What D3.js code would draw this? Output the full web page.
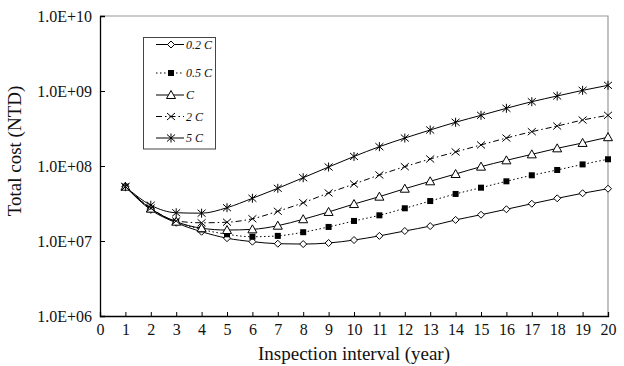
<!DOCTYPE html>
<html>
<head>
<meta charset="utf-8">
<script src="https://cdn.jsdelivr.net/npm/d3@7"></script>
<style>
  body { margin: 0; background: #fff; }
  svg { display: block; font-family: "Liberation Serif", "DejaVu Serif", serif; }
</style>
</head>
<body>
<div id="chart"></div>
<script>
// inspection interval, years
const years = [1, 2, 3, 4, 5, 6, 7, 8, 9, 10, 11, 12, 13, 14, 15, 16, 17, 18, 19, 20];

// total cost (NTD) for each cost multiplier
const cost02C = [5.3e7, 2.6e7, 1.75e7, 1.33e7, 1.09e7, 9.8e6, 9.2e6, 9.1e6, 9.4e6, 1.03e7,
  1.17e7, 1.36e7, 1.58e7, 1.91e7, 2.24e7, 2.65e7, 3.14e7, 3.71e7, 4.33e7, 4.98e7];
const cost05C = [5.3e7, 2.65e7, 1.8e7, 1.43e7, 1.23e7, 1.14e7, 1.17e7, 1.31e7, 1.54e7, 1.85e7,
  2.2e7, 2.73e7, 3.41e7, 4.24e7, 5.14e7, 6.25e7, 7.52e7, 8.85e7, 1.05e8, 1.23e8];
const cost1C = [5.3e7, 2.7e7, 1.81e7, 1.48e7, 1.4e7, 1.43e7, 1.6e7, 1.95e7, 2.44e7, 3.11e7,
  3.9e7, 4.98e7, 6.25e7, 7.82e7, 9.8e7, 1.19e8, 1.43e8, 1.72e8, 2.03e8, 2.42e8];
const cost2C = [5.3e7, 2.75e7, 1.85e7, 1.75e7, 1.78e7, 1.98e7, 2.49e7, 3.24e7, 4.37e7, 5.75e7,
  7.59e7, 9.8e7, 1.24e8, 1.54e8, 1.91e8, 2.36e8, 2.87e8, 3.41e8, 4.1e8, 4.74e8];
const cost5C = [5.3e7, 3.0e7, 2.38e7, 2.35e7, 2.78e7, 3.71e7, 5.04e7, 6.98e7, 9.7e7, 1.34e8,
  1.81e8, 2.36e8, 3.02e8, 3.83e8, 4.74e8, 5.88e8, 7.2e8, 8.58e8, 1.02e9, 1.19e9];

const seriesLabels = ['0.2 C', '0.5 C', 'C', '2 C', '5 C'];
const xTicks = d3.range(0, 21);
const yTicks = [1e6, 1e7, 1e8, 1e9, 1e10];

const series = [
  { label: seriesLabels[0], values: cost02C, dash: null, marker: 'diamond' },
  { label: seriesLabels[1], values: cost05C, dash: '1.5,2.5', marker: 'square' },
  { label: seriesLabels[2], values: cost1C, dash: null, marker: 'triangle' },
  { label: seriesLabels[3], values: cost2C, dash: '6,3,1.5,3', marker: 'cross' },
  { label: seriesLabels[4], values: cost5C, dash: null, marker: 'star' }
];

const width = 624, height = 366;
const margin = { top: 16, right: 16, bottom: 50, left: 100 };

const svg = d3.select('#chart').append('svg')
  .attr('width', width)
  .attr('height', height);

const x = d3.scaleLinear().domain([0, 20]).range([margin.left, width - margin.right]);
const y = d3.scaleLog().domain([1e6, 1e10]).range([height - margin.bottom, margin.top]);

// gray frame on top and right
svg.append('path')
  .attr('d', `M${x(0)},${y(1e10)}H${x(20)}V${y(1e6)}`)
  .attr('fill', 'none')
  .attr('stroke', '#999')
  .attr('stroke-width', 1.2);

const fmt = v => '1.0E+' + String(Math.round(Math.log10(v))).padStart(2, '0');

const xAxis = svg.append('g')
  .attr('transform', `translate(0,${y(1e6)})`)
  .call(d3.axisBottom(x).tickValues(xTicks).tickSize(-4).tickPadding(8).tickFormat(d3.format('d')));
xAxis.selectAll('text').attr('font-size', 16).attr('font-family', 'Liberation Serif').attr('fill', '#111');

const yAxis = svg.append('g')
  .attr('transform', `translate(${x(0)},0)`)
  .call(d3.axisLeft(y).tickValues(yTicks).tickSize(-5).tickPadding(8).tickFormat(fmt));
yAxis.selectAll('text').attr('font-size', 16).attr('font-family', 'Liberation Serif').attr('fill', '#111');

[xAxis, yAxis].forEach(a => {
  a.select('.domain').attr('stroke', '#000').attr('stroke-width', 1.3);
  a.selectAll('.tick line').attr('stroke', '#000');
});

// axis titles
svg.append('text')
  .attr('x', (x(0) + x(20)) / 2)
  .attr('y', 360)
  .attr('text-anchor', 'middle')
  .attr('font-size', 19)
  .attr('fill', '#111')
  .text('Inspection interval (year)');

svg.append('text')
  .attr('transform', `translate(21,${151}) rotate(-90)`)
  .attr('text-anchor', 'middle')
  .attr('font-size', 19)
  .attr('fill', '#111')
  .text('Total cost (NTD)');

// marker shapes
function drawMarker(g, type) {
  if (type === 'diamond') {
    g.append('path').attr('d', 'M0,-3.5L3.5,0L0,3.5L-3.5,0Z')
      .attr('fill', '#fff').attr('stroke', '#000').attr('stroke-width', 1);
  } else if (type === 'square') {
    g.append('rect').attr('x', -3).attr('y', -3).attr('width', 6).attr('height', 6).attr('fill', '#000');
  } else if (type === 'triangle') {
    g.append('path').attr('d', 'M0,-4.5L4.5,3.5L-4.5,3.5Z')
      .attr('fill', '#fff').attr('stroke', '#000').attr('stroke-width', 1);
  } else if (type === 'cross') {
    g.append('path').attr('d', 'M-4,-3.5L4,3.5M-4,3.5L4,-3.5')
      .attr('stroke', '#000').attr('stroke-width', 1);
  } else if (type === 'star') {
    g.append('path').attr('d', 'M-4,-3.5L4,3.5M-4,3.5L4,-3.5M0,-4.5V4.5')
      .attr('stroke', '#000').attr('stroke-width', 1);
  }
}

const line = d3.line()
  .x((d, i) => x(years[i]))
  .y(d => y(d))
  .curve(d3.curveMonotoneX);

series.forEach(s => {
  svg.append('path')
    .datum(s.values)
    .attr('d', line)
    .attr('fill', 'none')
    .attr('stroke', '#000')
    .attr('stroke-width', 1)
    .attr('stroke-dasharray', s.dash);
});

series.forEach(s => {
  s.values.forEach((v, i) => {
    const g = svg.append('g').attr('transform', `translate(${x(years[i])},${y(v)})`);
    drawMarker(g, s.marker);
  });
});

// legend
const legend = svg.append('g');
legend.append('rect')
  .attr('x', 143.5).attr('y', 37.5)
  .attr('width', 72).attr('height', 111.5)
  .attr('fill', '#fff')
  .attr('stroke', '#444')
  .attr('stroke-width', 1);

const rowY = [44.5, 73, 95, 116.5, 138];
series.forEach((s, i) => {
  const row = legend.append('g').attr('transform', `translate(0,${rowY[i]})`);
  row.append('line')
    .attr('x1', 156).attr('x2', 184)
    .attr('stroke', '#000').attr('stroke-width', 1)
    .attr('stroke-dasharray', s.dash);
  drawMarker(row.append('g').attr('transform', 'translate(171,0)'), s.marker);
  row.append('text')
    .attr('x', 186).attr('y', 4)
    .attr('font-size', 12)
    .attr('font-style', 'italic')
    .attr('fill', '#111')
    .text(s.label);
});
</script>
</body>
</html>
